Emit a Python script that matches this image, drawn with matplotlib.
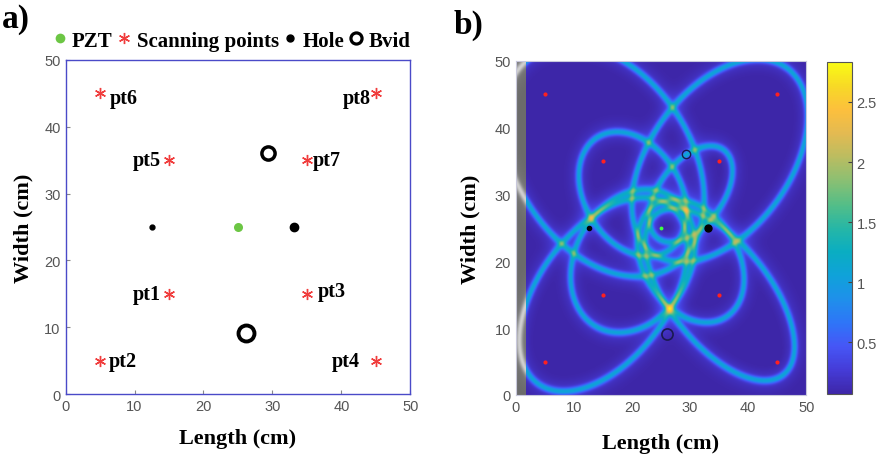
import numpy as np
import matplotlib
matplotlib.use("Agg")
import matplotlib.pyplot as plt
from matplotlib.colors import LinearSegmentedColormap
from matplotlib.lines import Line2D

# ---------------- data ----------------
pzt_x = [25.0]
pzt_y = [25.0]
scan_x = [15, 5, 35, 45, 15, 5, 35, 45]
scan_y = [15, 5, 15, 5, 35, 45, 35, 45]
scan_labels = ["pt1", "pt2", "pt3", "pt4", "pt5", "pt6", "pt7", "pt8"]
hole_x = [12.6, 33.1]
hole_y = [25.0, 25.0]
bvid_x = [29.3, 26.1]
bvid_y = [36.0, 9.2]
# total path PZT -> scatterer -> scanning point (cm)
path_len = [23.6, 35.2, 20.9, 32.6, 21.1, 40.0, 17.5, 36.3]
cbar_ticks = [0.5, 1, 1.5, 2, 2.5]
cbar_ticklabels = ["0.5", "1", "1.5", "2", "2.5"]
axis_ticks = [0, 10, 20, 30, 40, 50]

# ---------------- style ----------------
SERIF = "Liberation Serif"
SANS = "Liberation Sans"
TICK_COL = "#555555"
plt.rcParams["font.family"] = [SANS, "DejaVu Sans"]

parula_anchor = [
    (0.2422, 0.1504, 0.6603), (0.2691, 0.2337, 0.8450), (0.2740, 0.3382, 0.9643),
    (0.1800, 0.4600, 0.9700), (0.1200, 0.5650, 0.9200), (0.0600, 0.6350, 0.8500),
    (0.0400, 0.6800, 0.7600), (0.1500, 0.7150, 0.6500), (0.3300, 0.7450, 0.5300),
    (0.5400, 0.7500, 0.4500), (0.7300, 0.7400, 0.3800), (0.8900, 0.7300, 0.3200),
    (0.9900, 0.7500, 0.2400), (0.9700, 0.8500, 0.1500), (0.9769, 0.9839, 0.0805)]
parula = LinearSegmentedColormap.from_list("parula", parula_anchor)
greymap = LinearSegmentedColormap.from_list("g", [(0.42, 0.42, 0.42), (0.9, 0.9, 0.9)])

fig = plt.figure(figsize=(8.82, 4.64), dpi=100)

# ---------------- panel a ----------------
axa = fig.add_axes([0.0743, 0.1487, 0.391, 0.72])
axa.set_xlim(0, 50)
axa.set_ylim(0, 50)
axa.plot(pzt_x, pzt_y, "o", color="#6cc644", ms=6.5, mec="none", zorder=3)
axa.plot(scan_x, scan_y, ls="none", marker=(6, 2, 0), color="#f03c3c", ms=8, mew=1.0, zorder=3)
axa.plot(hole_x[:1], hole_y[:1], "o", color="black", ms=3.5, zorder=3)
axa.plot(hole_x[1:], hole_y[1:], "o", color="black", ms=6, zorder=3)
axa.plot(bvid_x[:1], bvid_y[:1], "o", mfc="none", mec="black", ms=9.5, mew=2.5, zorder=3)
axa.plot(bvid_x[1:], bvid_y[1:], "o", mfc="none", mec="black", ms=11.5, mew=2.8, zorder=3)

lab_off = {"pt1": (-1.2, 0, "right"), "pt2": (1.2, 0, "left"), "pt3": (1.6, 0.4, "left"),
           "pt4": (-2.4, 0, "right"), "pt5": (-1.2, 0, "right"), "pt6": (1.4, -0.7, "left"),
           "pt7": (0.9, 0, "left"), "pt8": (-0.8, -0.7, "right")}
for x, y, t in zip(scan_x, scan_y, scan_labels):
    dx, dy, ha = lab_off[t]
    axa.text(x + dx, y + dy, t, ha=ha, va="center", fontsize=14.5, fontweight="bold",
             family=SERIF, color="black")

for sp in axa.spines.values():
    sp.set_color("#4a4ac8")
    sp.set_linewidth(1.0)
axa.set_xticks(axis_ticks)
axa.set_yticks(axis_ticks)
axa.tick_params(direction="in", length=3, color="#888888", labelcolor=TICK_COL, labelsize=10.5)
axa.set_xlabel("Length (cm)", fontsize=16, fontweight="bold", family=SERIF, labelpad=11)
axa.set_ylabel("Width (cm)", fontsize=16, fontweight="bold", family=SERIF, labelpad=8)

handles = [
    Line2D([], [], ls="none", marker="o", color="#6cc644", mec="none", ms=7),
    Line2D([], [], ls="none", marker=(6, 2, 0), color="#f03c3c", ms=8, mew=1.0),
    Line2D([], [], ls="none", marker="o", color="black", ms=5),
    Line2D([], [], ls="none", marker="o", mfc="none", mec="black", ms=8, mew=2.3),
]
fig.legend(handles, ["PZT", "Scanning points", "Hole", "Bvid"], loc="center left",
           bbox_to_anchor=(0.051, 0.91), ncol=4, frameon=False, handlelength=0.6,
           handletextpad=0.3, columnspacing=0.25, borderaxespad=0,
           prop={"family": SERIF, "weight": "bold", "size": 15})
fig.text(0.002, 0.957, "a)", fontsize=24, fontweight="bold", family=SERIF, va="center")

# ---------------- panel b ----------------
n = 700
gx = np.linspace(0, 50, n)
gy = np.linspace(0, 50, n)
X, Y = np.meshgrid(gx, gy)
ridge = np.zeros_like(X)
d0x, d0y = X - pzt_x[0], Y - pzt_y[0]
r0 = np.hypot(d0x, d0y) + 1e-9
for sx, sy, L in zip(scan_x, scan_y, path_len):
    d1x, d1y = X - sx, Y - sy
    r1 = np.hypot(d1x, d1y) + 1e-9
    S = r0 + r1
    gxx = d0x / r0 + d1x / r1
    gyy = d0y / r0 + d1y / r1
    gn = np.maximum(np.hypot(gxx, gyy), 0.25)
    dist = (S - L) / gn
    ridge += 0.9 * np.exp(-(dist / 0.48) ** 2) + 0.12 * np.exp(-(dist / 1.6) ** 2)
field = 0.07 + 1.17 * ridge / (1 + 0.167 * ridge)

axb = fig.add_axes([0.585, 0.1466, 0.329, 0.72])
cut = np.searchsorted(gx, 1.6)
im = axb.imshow(field[:, cut:], origin="lower", extent=[gx[cut], 50, 0, 50], cmap=parula,
                vmin=0.07, vmax=2.83, aspect="auto", interpolation="bilinear")
axb.imshow(field[:, :cut], origin="lower", extent=[0, gx[cut], 0, 50], cmap=greymap,
           vmin=0.07, vmax=1.3, aspect="auto", interpolation="bilinear")
axb.set_xlim(0, 50)
axb.set_ylim(0, 50)
axb.plot(scan_x, scan_y, "o", color="#ff2020", ms=3, mec="none")
axb.plot(pzt_x, pzt_y, "o", color="#40ff40", ms=2.8, mec="none")
axb.plot(hole_x[:1], hole_y[:1], "o", color="black", ms=3)
axb.plot(hole_x[1:], hole_y[1:], "o", color="black", ms=5)
axb.plot(bvid_x[:1], bvid_y[:1], "o", mfc="none", mec="#1a1a50", ms=6, mew=1.0)
axb.plot(bvid_x[1:], bvid_y[1:], "o", mfc="none", mec="#1a1a50", ms=8, mew=1.2)
for sp in axb.spines.values():
    sp.set_color("#c8c8dc")
    sp.set_linewidth(0.8)
axb.set_xticks(axis_ticks)
axb.set_yticks(axis_ticks)
axb.tick_params(direction="in", length=0, labelcolor=TICK_COL, labelsize=10.5)
axb.set_xlabel("Length (cm)", fontsize=16, fontweight="bold", family=SERIF, labelpad=14)
axb.set_ylabel("Width (cm)", fontsize=16, fontweight="bold", family=SERIF, labelpad=10)
fig.text(0.514, 0.945, "b)", fontsize=24, fontweight="bold", family=SERIF, va="center")

cax = fig.add_axes([0.938, 0.1487, 0.0277, 0.715])
cb = fig.colorbar(im, cax=cax, ticks=cbar_ticks)
cb.ax.set_yticklabels(cbar_ticklabels)
cb.ax.tick_params(direction="in", length=3, color="#444444", labelcolor=TICK_COL, labelsize=10.5)
cb.outline.set_edgecolor("#555555")
cb.outline.set_linewidth(0.8)

fig.savefig("out.png", dpi=100)
